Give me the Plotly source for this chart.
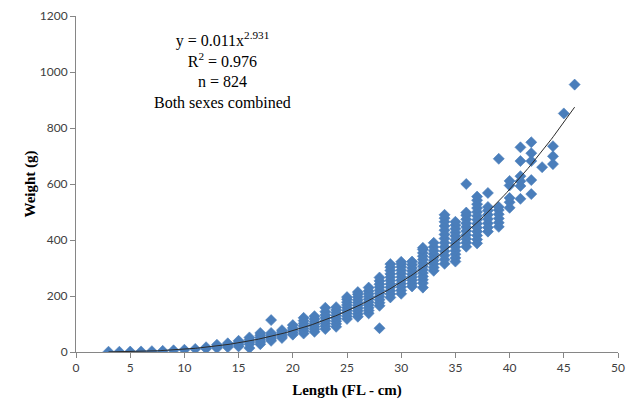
import plotly.graph_objects as go
import numpy as np

# ---- data ----
lengths = list(range(3, 47))  # fork length, cm

weights = [
    [1],                                   # 3
    [1],                                   # 4
    [1.5],                                 # 5
    [2],                                   # 6
    [3],                                   # 7
    [4],                                   # 8
    [6],                                   # 9
    [8],                                   # 10
    [11],                                  # 11
    [12, 17],                              # 12
    [14, 20, 26],                          # 13
    [17, 24, 31],                          # 14
    [20, 27, 34, 40],                      # 15
    [14, 28, 36, 44, 52],                  # 16
    [28, 36, 44, 52, 60, 68],              # 17
    [40, 47, 54, 61, 68, 114],             # 18
    [50, 57, 64, 71, 78],                  # 19
    [62, 70, 78, 86, 96],                  # 20
    [66, 75, 84, 93, 102, 112, 122],       # 21
    [72, 81, 90, 99, 108, 118, 128],       # 22
    [82, 92, 102, 112, 122, 132, 144, 158],  # 23
    [90, 100, 110, 120, 130, 140, 150, 160],  # 24
    [118, 128, 138, 148, 158, 168, 178, 188, 196],  # 25
    [126, 136, 146, 156, 166, 176, 186, 196, 206, 214],  # 26
    [138, 148, 158, 168, 178, 188, 198, 208, 218, 230],  # 27
    [85, 165, 176, 187, 198, 209, 220, 231, 242, 254, 266],  # 28
    [195, 207, 219, 231, 243, 255, 267, 279, 291, 303, 314],  # 29
    [208, 220, 232, 244, 256, 268, 280, 292, 304, 314, 322],  # 30
    [234, 245, 256, 267, 278, 289, 300, 312, 323],  # 31
    [230, 246, 258, 270, 282, 294, 306, 318, 330, 342, 354, 366, 372],  # 32
    [290, 302, 314, 326, 338, 350, 362, 375, 390],  # 33
    [315, 330, 345, 360, 375, 390, 405, 420, 435, 450, 465, 478, 490],  # 34
    [323, 336, 349, 362, 375, 388, 401, 414, 427, 440, 453, 465],  # 35
    [376, 390, 404, 418, 432, 446, 460, 474, 488, 498, 600],  # 36
    [388, 402, 416, 430, 444, 458, 472, 486, 500, 514, 528, 542, 555],  # 37
    [430, 445, 460, 475, 490, 505, 518, 568],  # 38
    [447, 462, 477, 492, 507, 518, 690],   # 39
    [515, 535, 550, 595, 611],             # 40
    [547, 593, 610, 628, 682, 731],        # 41
    [564, 614, 682, 710, 749],             # 42
    [660],                                 # 43
    [671, 699, 735],                       # 44
    [852],                                 # 45
    [955],                                 # 46
]

# power trendline W = a * L^b (curve as drawn in the picture)
trend_a = 0.0117
trend_b = 2.931
trend_range = [3, 46]

eq_text = "y = 0.011x<sup>2.931</sup>"
r2_text = "R<sup>2</sup> = 0.976"
n_text = "n = 824"
group_text = "Both sexes combined"

x_ticks = [0, 5, 10, 15, 20, 25, 30, 35, 40, 45, 50]
y_ticks = [0, 200, 400, 600, 800, 1000, 1200]

# ---- build ----
xs, ys = [], []
for L, ws in zip(lengths, weights):
    for w in ws:
        xs.append(L)
        ys.append(w)

curve_x = np.linspace(trend_range[0], trend_range[1], 200)
curve_y = trend_a * curve_x ** trend_b

fig = go.Figure()
fig.add_trace(go.Scatter(
    x=xs, y=ys, mode="markers",
    marker=dict(symbol="diamond", size=8.5, color="#4A7EBB",
                line=dict(width=0.6, color="#4A7EBB")),
    showlegend=False, hoverinfo="x+y"))
fig.add_trace(go.Scatter(
    x=curve_x, y=curve_y, mode="lines",
    line=dict(color="#2a2a2a", width=1),
    showlegend=False, hoverinfo="skip"))

tick_font = dict(family="Lato, Liberation Sans, sans-serif", size=12, color="#404040")
title_font = dict(family="Liberation Serif, Times New Roman, serif", size=15, color="#000000")
axis_col = "#868686"

# page body has an 8px default margin, so the figure is sized/offset accordingly
fig.update_layout(
    width=626, height=395,
    margin=dict(l=68, r=16, t=8, b=51),
    paper_bgcolor="white", plot_bgcolor="white",
    xaxis=dict(range=[0, 50], tickvals=x_ticks, ticktext=[str(v) for v in x_ticks],
               showgrid=False, zeroline=False, showline=True, automargin=False,
               linecolor=axis_col, linewidth=1, ticks="outside", ticklen=5,
               tickcolor=axis_col, tickfont=tick_font, ticklabeloverflow="allow",
               title=dict(text="<b>Length (FL - cm)</b>", font=title_font, standoff=10)),
    yaxis=dict(range=[0, 1200], tickvals=y_ticks, ticktext=[str(v) for v in y_ticks],
               showgrid=False, zeroline=False, showline=True, automargin=False,
               linecolor=axis_col, linewidth=1, ticks="outside", ticklen=5,
               tickcolor=axis_col, tickfont=tick_font, ticklabeloverflow="allow",
               title=dict(text="<b>Weight (g)</b>", font=title_font, standoff=0)),
    annotations=[dict(
        text="<br>".join([eq_text, r2_text, n_text, group_text]),
        xref="paper", yref="paper", x=0.2707, y=0.966,
        xanchor="center", yanchor="top", align="center", showarrow=False,
        font=dict(family="Liberation Serif, Times New Roman, serif", size=16, color="#000000"))],
)

fig.write_html("out.html")
